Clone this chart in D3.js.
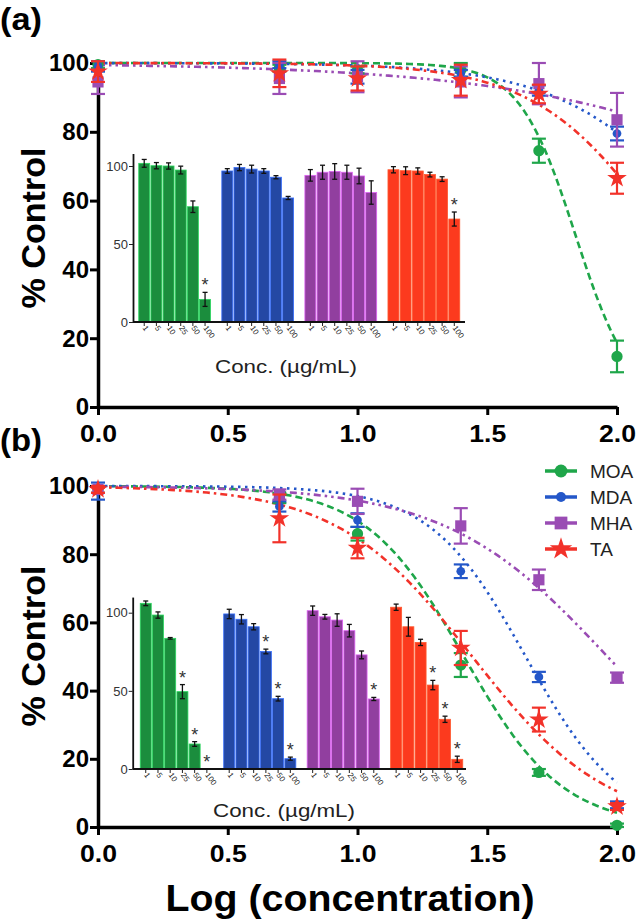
<!DOCTYPE html>
<html><head><meta charset="utf-8">
<script src="https://cdn.jsdelivr.net/npm/d3@7"></script>
<style>body{margin:0;background:#fff} svg{display:block}</style>
</head><body><svg id="c" width="636" height="924"></svg>
<script>
// ---------- data ----------
const seriesNames = ["MOA", "MDA", "MHA", "TA"];
const logConc = [0, 0.699, 1, 1.398, 1.699, 2];
const concLabels = ["1", "5", "10", "25", "50", "100"];
const xTickValues = [0, 0.5, 1, 1.5, 2];
const yTickValues = [0, 20, 40, 60, 80, 100];
const insetTickValues = [0, 50, 100];

// panel (a) main points: mean and error
const aMOA = [99.5, 98.5, 98, 98, 74.5, 14.7];
const aMOAerr = [1, 1, 1, 2, 3.5, 4.6];
const aMDA = [99, 99.5, 96, 97, 92, 79.5];
const aMDAerr = [1.5, 1, 2, 1, 1.5, 2];
const aMHA = [94.5, 95.5, 96, 94.5, 94, 83.5];
const aMHAerr = [3.5, 4.5, 4.5, 4.5, 6, 7.8];
const aTA = [97.5, 97, 95.5, 95, 91, 66.5];
const aTAerr = [3, 4, 3.5, 4.5, 2.7, 4.5];
// panel (a) fitted dose-response parameters (top, logIC50, hill)
const aFitTop = [100, 100, 100, 100];
const aFitLogIC50 = [1.84, 2.39, 3.09, 2.18];
const aFitHill = [4.0, 1.53, 0.72, 1.79];

// panel (b) main points
const bMOA = [99, 96.5, 86, 47.5, 16, 0.5];
const bMOAerr = [1, 1.5, 2, 3.5, 1, 0.5];
const bMDA = [98.5, 94, 90, 75, 44, 6.5];
const bMDAerr = [2.5, 1.5, 2, 2, 1.5, 1];
const bMHA = [99, 97.5, 95.5, 88.3, 72.5, 43.8];
const bMHAerr = [1, 1.5, 3.7, 5.2, 3, 1.5];
const bTA = [99, 90.5, 81.8, 52.5, 31.5, 6];
const bTAerr = [1, 7, 3, 5, 3.5, 1];
const bFitTop = [100, 100, 100, 100];
const bFitLogIC50 = [1.41, 1.648, 1.963, 1.442];
const bFitHill = [2.3, 2.34, 1.4, 1.67];

// inset (a) bars
const insA_MOA = [101.7, 100.2, 100, 97.4, 73.9, 14.5];
const insA_MOAerr = [2.5, 2, 2, 2.5, 3.7, 4.5];
const insA_MDA = [96.8, 99, 98, 96.8, 92.8, 79.5];
const insA_MDAerr = [1.5, 2, 2.5, 1.5, 1, 1];
const insA_MHA = [94, 96, 96.5, 96, 93.6, 83];
const insA_MHAerr = [3.7, 4.5, 5, 4.5, 5, 7.5];
const insA_TA = [97.6, 97, 96.8, 94.5, 91.6, 66];
const insA_TAerr = [2, 2.5, 2, 1.5, 1.5, 4.5];
const insA_stars = [[5], [], [], [5]];

// inset (b) bars
const insB_MOA = [106, 98.5, 83.6, 49.5, 16, 0.3];
const insB_MOAerr = [1.5, 2, 0.5, 4.5, 1.5, 0];
const insB_MDA = [99.2, 95.8, 91, 75.2, 45, 6.6];
const insB_MDAerr = [3, 3, 2, 1.5, 1.5, 1];
const insB_MHA = [101.3, 97.4, 95.3, 88.5, 73, 44.8];
const insB_MHAerr = [3, 1.5, 4, 4, 2.5, 1];
const insB_TA = [103.5, 91, 81, 53.7, 31.8, 6.2];
const insB_TAerr = [2, 6, 2, 3, 2, 2];
const insB_stars = [[3, 4, 5], [3, 4, 5], [5], [3, 4, 5]];

// ---------- style ----------
const FONT = "'Liberation Sans', Arial, Helvetica, sans-serif";
const colorsMain = ["#1fa64a", "#2457c9", "#9a4cb4", "#f2322a"];
const colorsBar = ["#1b8d3d", "#2448a4", "#913f9f", "#fc3a1e"];
const dashes = ["7,4", "2.5,4.5", "7,4,2.5,4,2.5,4", "7,4,2.5,4"];
const symbolTypes = [d3.symbolCircle, d3.symbolCircle, d3.symbolSquare, d3.symbolStar];
const symbolSizes = [100, 60, 125, 120];

const svg = d3.select("#c").style("font-family", FONT);

function drawInset(cfg) {
  const g = svg.append("g");
  const yI = d3.scaleLinear().domain([0, cfg.topVal])
    .range([cfg.base, cfg.base - (cfg.base - cfg.y100) * cfg.topVal / 100]);
  const gx = d3.scaleBand().domain(seriesNames).range(cfg.groupRange).paddingInner(0.13).paddingOuter(0);
  const bx = d3.scaleBand().domain(concLabels).range([0, gx.bandwidth()]).paddingInner(0.1).paddingOuter(0.02);

  seriesNames.forEach((s, i) => {
    const gg = g.append("g").attr("transform", `translate(${gx(s)},0)`);
    const vals = cfg.means[i], errs = cfg.errs[i];
    gg.selectAll("rect").data(concLabels).join("rect")
      .attr("x", c => bx(c)).attr("width", bx.bandwidth())
      .attr("y", (c, j) => yI(vals[j])).attr("height", (c, j) => cfg.base - yI(vals[j]))
      .attr("fill", colorsBar[i]).attr("stroke", d3.color(colorsBar[i]).brighter(1.2)).attr("stroke-width", 0.8);
    // error bars
    concLabels.forEach((c, j) => {
      if (errs[j] <= 0) return;
      const cx = bx(c) + bx.bandwidth() / 2;
      const y1 = yI(vals[j] + errs[j]), y2 = yI(Math.max(0, vals[j] - errs[j]));
      gg.append("line").attr("x1", cx).attr("x2", cx).attr("y1", y1).attr("y2", y2).attr("stroke", "#111").attr("stroke-width", 1.3);
      [y1, y2].forEach(yy => gg.append("line").attr("x1", cx - 2.5).attr("x2", cx + 2.5).attr("y1", yy).attr("y2", yy).attr("stroke", "#111").attr("stroke-width", 1.3));
    });
    cfg.stars[i].forEach(j => {
      const c = concLabels[j];
      gg.append("text").attr("x", bx(c) + bx.bandwidth() / 2).attr("y", yI(cfg.means[i][j] + cfg.errs[i][j]) - 1)
        .attr("text-anchor", "middle").attr("font-size", 18).attr("fill", "#333").text("*");
    });
    // x ticks
    const ax = gg.append("g").attr("transform", `translate(0,${cfg.base})`)
      .call(d3.axisBottom(bx).tickSize(4).tickSizeOuter(0));
    ax.select(".domain").remove();
    ax.selectAll("line").attr("stroke", "#222").attr("stroke-width", 1);
    ax.selectAll("text").attr("font-size", 8).attr("fill", "#222").attr("font-family", FONT)
      .attr("text-anchor", "start").attr("dy", null).attr("y", 0).attr("x", 0)
      .attr("transform", "translate(-2,6) rotate(55)");
  });
  // x axis line
  g.append("line").attr("x1", cfg.axisX0).attr("x2", cfg.axisX1).attr("y1", cfg.base).attr("y2", cfg.base)
    .attr("stroke", "#111").attr("stroke-width", 1.8);
  // y axis
  const ay = g.append("g").attr("transform", `translate(${cfg.axisX0},0)`)
    .call(d3.axisLeft(yI).tickValues(insetTickValues).tickSize(4).tickSizeOuter(0));
  ay.select(".domain").attr("stroke", "#111").attr("stroke-width", 1.8);
  ay.selectAll(".tick line").attr("stroke", "#222").attr("stroke-width", 1);
  ay.selectAll("text").attr("font-size", 13).attr("fill", "#333").attr("font-family", FONT).attr("x", -5);
  g.append("text").attr("x", cfg.labelX).attr("y", cfg.labelY).attr("text-anchor", "middle")
    .attr("font-size", 19).attr("fill", "#222").attr("textLength", 142).attr("lengthAdjust", "spacingAndGlyphs")
    .text("Conc. (µg/mL)");
}

function drawPanel(cfg) {
  const x = d3.scaleLinear().domain([0, 2]).range([98, 617]);
  const y = d3.scaleLinear().domain([0, 100]).range([cfg.y0, cfg.y100]);
  const g = svg.append("g");

  // panel label
  g.append("text").attr("x", 0).attr("y", cfg.labelY).attr("font-size", 31).attr("font-weight", "bold")
    .attr("textLength", 42).attr("lengthAdjust", "spacingAndGlyphs").text(cfg.label);

  // axes
  const ax = g.append("g").attr("transform", `translate(0,${cfg.y0})`)
    .call(d3.axisBottom(x).tickValues(xTickValues).tickFormat(d3.format(".1f")).tickSize(8).tickSizeOuter(0));
  const ay = g.append("g").attr("transform", `translate(98,0)`)
    .call(d3.axisLeft(y).tickValues(yTickValues).tickSize(8).tickSizeOuter(0));
  [ax, ay].forEach(a => {
    a.select(".domain").attr("stroke", "#000").attr("stroke-width", 3.5);
    a.selectAll(".tick line").attr("stroke", "#000").attr("stroke-width", 3);
    a.selectAll("text").attr("font-size", 24).attr("font-weight", "bold").attr("fill", "#000").attr("font-family", FONT);
  });
  ax.selectAll("text").attr("y", 18).attr("textLength", 37).attr("lengthAdjust", "spacingAndGlyphs");
  ay.selectAll("text").attr("x", -9).attr("dy", "0.33em");

  g.append("text").attr("transform", `translate(45,${cfg.yLabelY}) rotate(-90)`).attr("text-anchor", "middle")
    .attr("font-size", 33).attr("font-weight", "bold").attr("textLength", 161).attr("lengthAdjust", "spacingAndGlyphs")
    .text("% Control");

  // inset
  drawInset(cfg.inset);

  // fitted curves
  const xs = d3.range(0, 2.0001, 0.02);
  seriesNames.forEach((s, i) => {
    const top = cfg.fitTop[i], c = cfg.fitC[i], h = cfg.fitH[i];
    const pts = xs.map(v => [v, top / (1 + Math.pow(10, (v - c) * h))]);
    g.append("path").datum(pts)
      .attr("d", d3.line().x(d => x(d[0])).y(d => y(d[1])))
      .attr("fill", "none").attr("stroke", colorsMain[i]).attr("stroke-width", 2.6)
      .attr("stroke-dasharray", dashes[i]);
  });
  // points + error bars
  seriesNames.forEach((s, i) => {
    const m = cfg.means[i], e = cfg.errs[i];
    const pg = g.append("g");
    logConc.forEach((lc, j) => {
      const cx = x(lc);
      const y1 = y(m[j] + e[j]), y2 = y(Math.max(0, m[j] - e[j]));
      pg.append("line").attr("x1", cx).attr("x2", cx).attr("y1", y1).attr("y2", y2).attr("stroke", colorsMain[i]).attr("stroke-width", 2.2);
      [y1, y2].forEach(yy => pg.append("line").attr("x1", cx - 7).attr("x2", cx + 7).attr("y1", yy).attr("y2", yy).attr("stroke", colorsMain[i]).attr("stroke-width", 2.2));
    });
    pg.selectAll("path").data(logConc).join("path")
      .attr("transform", (lc, j) => `translate(${x(lc)},${y(m[j])})`)
      .attr("d", d3.symbol().type(symbolTypes[i]).size(symbolSizes[i]))
      .attr("fill", colorsMain[i]);
  });
}

drawPanel({
  label: "(a)", labelY: 30, y0: 407, y100: 63, yLabelY: 228,
  means: [aMOA, aMDA, aMHA, aTA], errs: [aMOAerr, aMDAerr, aMHAerr, aTAerr],
  fitTop: aFitTop, fitC: aFitLogIC50, fitH: aFitHill,
  inset: {
    base: 322, y100: 166, topVal: 108, groupRange: [138.5, 460], axisX0: 133, axisX1: 465,
    means: [insA_MOA, insA_MDA, insA_MHA, insA_TA], errs: [insA_MOAerr, insA_MDAerr, insA_MHAerr, insA_TAerr],
    stars: insA_stars, labelX: 286, labelY: 373
  }
});
drawPanel({
  label: "(b)", labelY: 451, y0: 827, y100: 486, yLabelY: 646,
  means: [bMOA, bMDA, bMHA, bTA], errs: [bMOAerr, bMDAerr, bMHAerr, bTAerr],
  fitTop: bFitTop, fitC: bFitLogIC50, fitH: bFitHill,
  inset: {
    base: 769, y100: 612.7, topVal: 110, groupRange: [140, 463], axisX0: 132.7, axisX1: 466,
    means: [insB_MOA, insB_MDA, insB_MHA, insB_TA], errs: [insB_MOAerr, insB_MDAerr, insB_MHAerr, insB_TAerr],
    stars: insB_stars, labelX: 284, labelY: 817
  }
});

// x axis title
svg.append("text").attr("x", 350).attr("y", 911).attr("text-anchor", "middle").attr("font-size", 36)
  .attr("font-weight", "bold").attr("textLength", 369).attr("lengthAdjust", "spacingAndGlyphs")
  .text("Log (concentration)");

// legend
const legendY = d3.scalePoint().domain(seriesNames).range([471, 549]);
const lg = svg.append("g");
seriesNames.forEach((s, i) => {
  const yy = legendY(s);
  lg.append("line").attr("x1", 545).attr("x2", 577).attr("y1", yy).attr("y2", yy)
    .attr("stroke", colorsMain[i]).attr("stroke-width", 3.5);
  lg.append("path").attr("transform", `translate(561,${yy})`)
    .attr("d", d3.symbol().type(symbolTypes[i]).size(symbolSizes[i] * 1.3)).attr("fill", colorsMain[i]);
  lg.append("text").attr("x", 590).attr("y", yy).attr("dy", "0.36em").attr("font-size", 19)
    .attr("fill", "#222").text(s);
});
</script>
</body></html>
